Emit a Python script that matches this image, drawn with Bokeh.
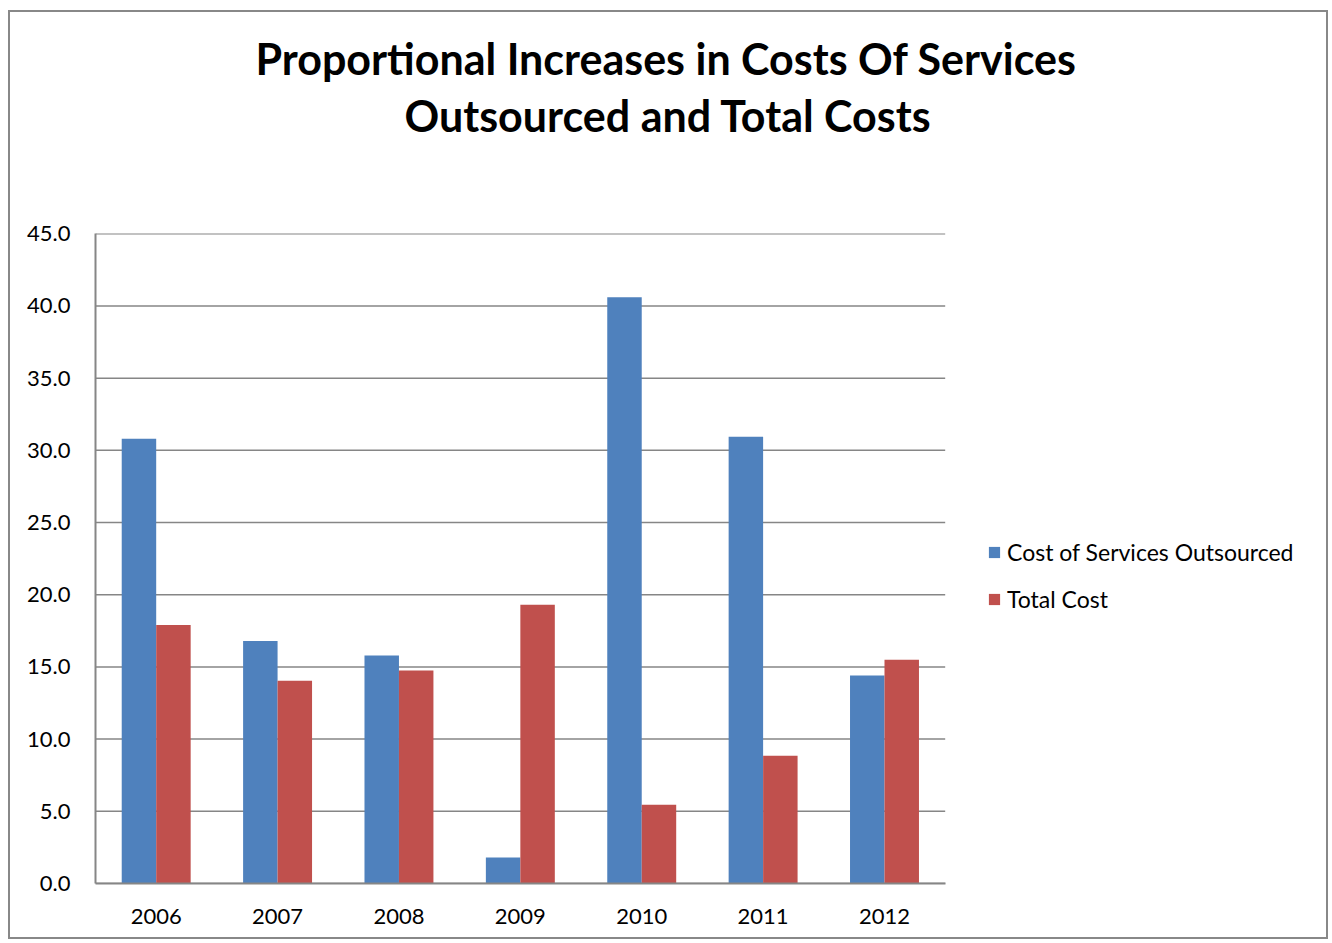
from bokeh.plotting import figure
from bokeh.models import (Range1d, FixedTicker, PrintfTickFormatter,
                          Title, Legend, LegendItem, ColumnDataSource)
from bokeh.transform import dodge
from bokeh.embed import file_html
from bokeh.resources import INLINE

years = ["2006", "2007", "2008", "2009", "2010", "2011", "2012"]
outsourced = [30.8, 16.8, 15.8, 1.8, 40.6, 30.95, 14.4]
total_cost = [17.9, 14.05, 14.75, 19.3, 5.45, 8.85, 15.5]
y_ticks = [0, 5, 10, 15, 20, 25, 30, 35, 40, 45]
title_lines = ["Proportional Increases in  Costs Of Services", "Outsourced and Total Costs"]
series_names = ["Cost of Services Outsourced", "Total Cost"]

BLUE = "#4F81BD"
RED = "#C0504D"
GRID = "#868686"
FONT = "Lato"

n = len(years)
idx = list(range(n))
src = ColumnDataSource(data=dict(idx=idx, years=years, outsourced=outsourced, total=total_cost))

# plot area of the categories occupies the left part of the frame; the rest hosts the legend
x_start = -0.5
x_end = x_start + n * 1234 / 849

p = figure(x_range=Range1d(x_start, x_end), y_range=Range1d(0, 45.02),
           width=1320, height=929, output_backend="svg", toolbar_location=None,
           min_border_left=85, min_border_right=0, min_border_top=221, min_border_bottom=58,
           margin=(10, 0, 0, 8), styles={"border": "2px solid #888888"})
p.outline_line_color = None
p.background_fill_color = "white"
p.border_fill_color = "white"

# horizontal gridlines across the category area only
p.segment(x0=x_start, x1=n - 0.5, y0=y_ticks, y1=y_ticks, line_color=GRID,
          line_width=1.5, level="underlay")

r1 = p.vbar(x=dodge("idx", -0.142), top="outsourced", width=0.284,
            source=src, fill_color=BLUE, line_color=None)
r2 = p.vbar(x=dodge("idx", 0.142), top="total", width=0.284,
            source=src, fill_color=RED, line_color=None)

# axes
p.yaxis.ticker = FixedTicker(ticks=y_ticks)
p.yaxis.formatter = PrintfTickFormatter(format="%.1f")
p.xaxis.ticker = FixedTicker(ticks=idx)
p.xaxis.major_label_overrides = {i: y for i, y in zip(idx, years)}
p.xaxis.bounds = (x_start, n - 0.5)
for ax in (p.xaxis, p.yaxis):
    ax.axis_line_color = GRID
    ax.axis_line_width = 2
    ax.major_tick_out = 0
    ax.major_tick_in = 0
    ax.minor_tick_out = 0
    ax.minor_tick_in = 0
    ax.major_label_text_font = FONT
    ax.major_label_text_font_size = "22px"
    ax.major_label_text_color = "black"
p.yaxis.major_label_standoff = 25
p.xaxis.major_label_standoff = 25
p.xgrid.grid_line_color = None
p.ygrid.grid_line_color = None

# spacer between plot area and the two-line title
p.add_layout(Title(text=" ", text_font_size="1px", standoff=88), "above")
t2 = Title(text=title_lines[1], align="left", offset=309, standoff=4,
           text_font=FONT, text_font_size="43px", text_font_style="bold", text_color="black")
t1 = Title(text=title_lines[0], align="left", offset=160, standoff=4,
           text_font=FONT, text_font_size="43px", text_font_style="bold", text_color="black")
p.add_layout(t2, "above")
p.add_layout(t1, "above")

legend = Legend(items=[LegendItem(label=series_names[0], renderers=[r1]),
                       LegendItem(label=series_names[1], renderers=[r2])],
                location=(892, 269), orientation="vertical",
                glyph_width=14, glyph_height=14, label_standoff=6,
                label_height=30, spacing=17, padding=0, margin=0,
                label_text_font=FONT, label_text_font_size="23px",
                label_text_color="black",
                border_line_color=None, background_fill_alpha=0)
p.add_layout(legend, "center")

open("out.html", "w").write(file_html(p, INLINE))
